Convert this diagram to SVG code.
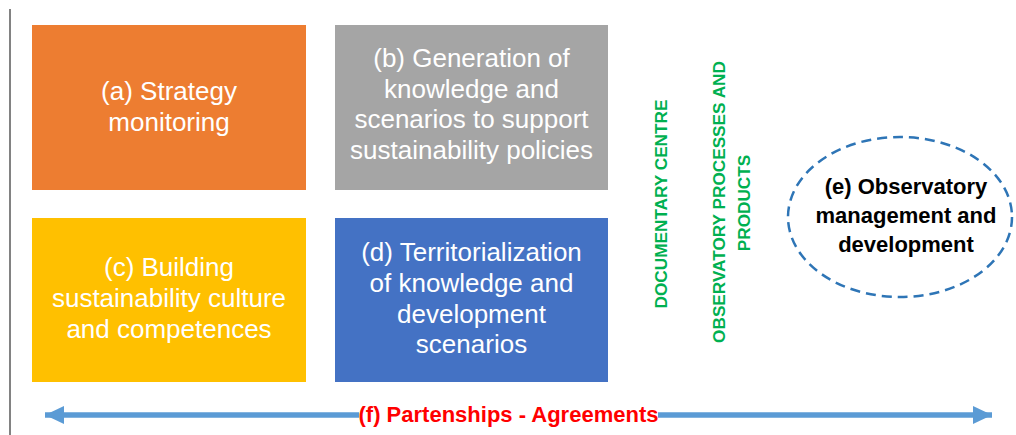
<svg xmlns="http://www.w3.org/2000/svg" width="1016" height="435" viewBox="0 0 1016 435">
<style>
.box-text{font-family:"Liberation Sans",Arial,sans-serif;font-size:26px;fill:#ffffff;text-anchor:middle}
.green{font-family:"Liberation Sans",Arial,sans-serif;font-size:17.2px;font-weight:bold;fill:#00B050;text-anchor:middle}
.etext{font-family:"Liberation Sans",Arial,sans-serif;font-size:22px;font-weight:bold;fill:#000000;text-anchor:middle}
.ftext{font-family:"Liberation Sans",Arial,sans-serif;font-size:22px;font-weight:bold;fill:#FF0000;text-anchor:middle}
</style>
<defs>
<marker id="ah" viewBox="0 0 19 18" refX="19" refY="9" markerWidth="19" markerHeight="18" markerUnits="userSpaceOnUse" orient="auto-start-reverse">
<path d="M0,0 L19,9 L0,18 Z" fill="#5B9BD5"/>
</marker>
</defs>
<rect x="0" y="0" width="1016" height="435" fill="#ffffff"/>
<line x1="10" y1="9" x2="10" y2="435" stroke="#595959" stroke-width="1.5"/>

<g id="node-a">
<rect x="32" y="25" width="274" height="165" fill="#ED7D31"/>
<text class="box-text" x="169" y="100">(a) Strategy</text>
<text class="box-text" x="169" y="131">monitoring</text>
</g>
<g id="node-b">
<rect x="335" y="25" width="273" height="165" fill="#A5A5A5"/>
<text class="box-text" x="471.5" y="67">(b) Generation of</text>
<text class="box-text" x="471.5" y="97.5">knowledge and</text>
<text class="box-text" x="471.5" y="128">scenarios to support</text>
<text class="box-text" x="471.5" y="158.5">sustainability policies</text>
</g>
<g id="node-c">
<rect x="32" y="218" width="274" height="164" fill="#FFC000"/>
<text class="box-text" x="169" y="276">(c) Building</text>
<text class="box-text" x="169" y="307">sustainability culture</text>
<text class="box-text" x="169" y="338">and competences</text>
</g>
<g id="node-d">
<rect x="335" y="218" width="273" height="164" fill="#4472C4"/>
<text class="box-text" x="471.5" y="261">(d) Territorialization</text>
<text class="box-text" x="471.5" y="292">of knowledge and</text>
<text class="box-text" x="471.5" y="323">development</text>
<text class="box-text" x="471.5" y="353">scenarios</text>
</g>
<g id="node-documentary">
<text class="green" transform="translate(666.5,204) rotate(-90)">DOCUMENTARY CENTRE</text>
</g>
<g id="node-processes">
<text class="green" transform="translate(725,202) rotate(-90)">OBSERVATORY PROCESSES AND</text>
<text class="green" transform="translate(750,203) rotate(-90)">PRODUCTS</text>
</g>
<g id="node-e">
<ellipse cx="900" cy="217" rx="112" ry="80" fill="none" stroke="#2E75B6" stroke-width="2.5" stroke-dasharray="10,6"/>
<text class="etext" x="906" y="194">(e) Observatory</text>
<text class="etext" x="906" y="223">management and</text>
<text class="etext" x="906" y="252">development</text>
</g>
<g id="connectors">
<line x1="45" y1="415" x2="992" y2="415" stroke="#5B9BD5" stroke-width="5.5" marker-start="url(#ah)" marker-end="url(#ah)"/>
</g>
<g id="node-f">
<rect x="359" y="403" width="299" height="24" fill="#ffffff"/>
<text class="ftext" x="508.5" y="422">(f) Partenships - Agreements</text>
</g>
</svg>
